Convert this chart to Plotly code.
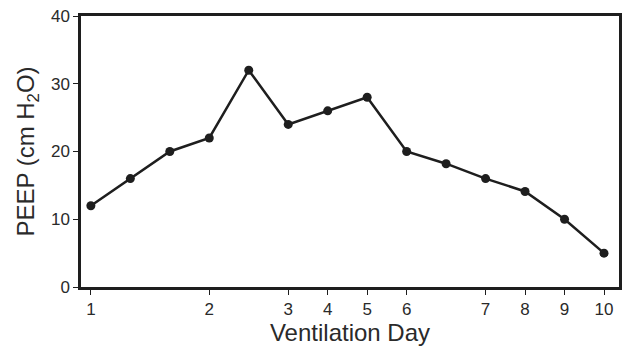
import plotly.graph_objects as go

point_index = list(range(14))
peep = [12, 16, 20, 22, 32, 24, 26, 28, 20, 18.2, 16, 14.1, 10, 5]
tick_positions = [0, 3, 5, 6, 7, 8, 10, 11, 12, 13]
tick_labels = ["1", "2", "3", "4", "5", "6", "7", "8", "9", "10"]
y_ticks = [0, 10, 20, 30, 40]

ink = "#1e1e1e"
fig = go.Figure(go.Scatter(
    x=point_index, y=peep, mode="lines+markers",
    line=dict(color=ink, width=2.5),
    marker=dict(color=ink, size=9),
    showlegend=False,
))
fig.update_layout(
    width=622, height=346,
    margin=dict(l=81, r=3, t=16, b=59),
    paper_bgcolor="white", plot_bgcolor="white",
    font=dict(family="Liberation Sans, Arial, sans-serif", color="#2a2a2a", size=17),
)
fig.update_xaxes(
    range=[-0.25, 13.38], tickmode="array", tickvals=tick_positions, ticktext=tick_labels,
    showgrid=False, zeroline=False, showline=True, linecolor=ink, linewidth=2.5, mirror=True,
    ticks="outside", ticklen=5, tickcolor=ink, tickwidth=1, automargin=False,
    title=dict(text="Ventilation Day", font=dict(size=24), standoff=3),
)
fig.update_yaxes(
    range=[0, 40], tickvals=y_ticks,
    showgrid=False, zeroline=False, showline=True, linecolor=ink, linewidth=2.5, mirror=True,
    ticks="outside", ticklen=5, tickcolor=ink, tickwidth=1, automargin=False,
    title=dict(text="PEEP (cm H<sub>2</sub>O)", font=dict(size=24), standoff=10),
)
fig.write_html(
    "out.html",
    config={"displayModeBar": False},
    post_script="document.body.style.margin='0';document.body.style.overflow='hidden';",
)
